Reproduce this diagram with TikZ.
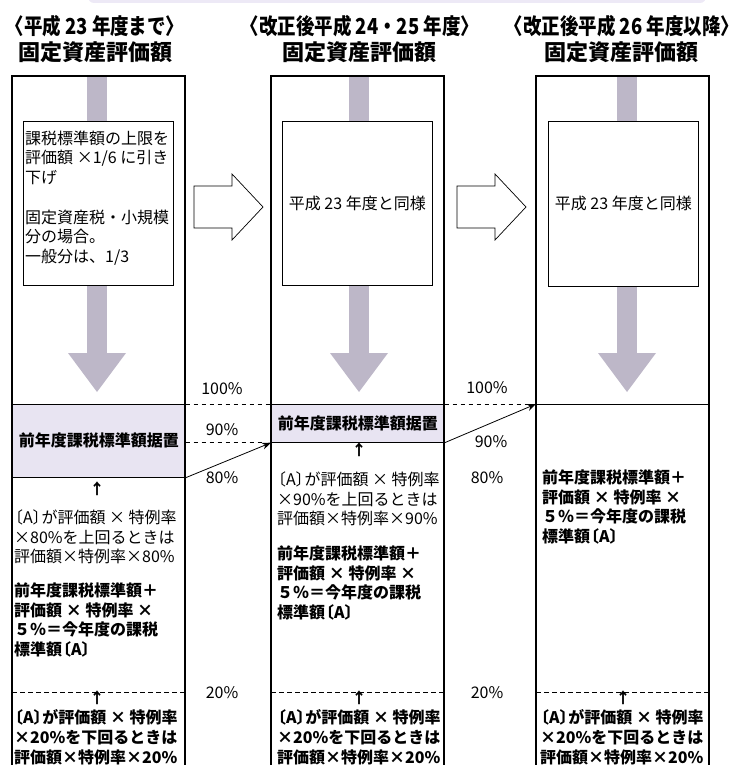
\documentclass[tikz,border=0pt]{standalone}
\usepackage{fontspec}
\setmainfont{Noto Sans CJK JP}
\usetikzlibrary{arrows.meta}

\definecolor{flowgray}{RGB}{189,183,200}
\definecolor{keepfill}{RGB}{232,228,242}
\definecolor{bandfill}{RGB}{237,233,246}

\newcommand{\mul}{\makebox[1em]{×}}
\newcommand{\lbr}{\hspace*{-.45em}〔}
\newcommand{\rbr}{〕\hspace{-.45em}}
\newcommand{\narrow}[1]{\scalebox{.84}[1]{#1}}

\tikzset{
    colbox/.style  = {draw, line width = 1.3pt},
    capbox/.style  = {draw, fill = white, line width = .7pt, anchor = north west, minimum width = 150pt, minimum height = 164pt},
    keepbox/.style = {draw, fill = keepfill, line width = .7pt, inner sep = 0pt, anchor = north west, minimum width = 173pt, font = \fontsize{16}{19.7}\selectfont\bfseries},
    note/.style    = {inner sep = 0pt, anchor = north west, align = left, font = \fontsize{16}{19.7}\selectfont},
    notebf/.style  = {note, font = \fontsize{16}{19.7}\selectfont\bfseries},
    pct/.style     = {inner sep = 0pt, font = \fontsize{16}{19}\selectfont},
    uparrow/.style = {inner sep = 0pt, font = \fontsize{15}{18}\selectfont\bfseries},
    heading/.style = {inner sep = 0pt, font = \fontsize{22}{26}\selectfont\bfseries},
    cut/.style     = {dash pattern = on 4.5pt off 3.5pt, line width = .7pt},
    hollow/.style  = {draw, fill = white, line width = .7pt},
}

\begin{document}
\begin{tikzpicture}[x = 1pt, y = -1pt, >={Stealth[length = 9pt, width = 7pt]}]
    \useasboundingbox (0, 0) rectangle (738, 765);
    \clip (0, 0) rectangle (738, 765);
    \fill [bandfill, rounded corners = 6pt] (88, -20) rectangle (706, 3);

    \node [heading] (yearL) at (95, 26) {\narrow{〈平成 23 年度まで〉}};
    \node [heading] (yearM) at (360, 26) {\narrow{〈改正後平成 24・25 年度〉}};
    \node [heading] (yearR) at (622, 26) {\narrow{〈改正後平成 26 年度以降〉}};
    \node [heading] (valueL) at (95.5, 52.5) {固定資産評価額};
    \node [heading] (valueM) at (359, 52.5) {固定資産評価額};
    \node [heading] (valueR) at (621, 52.5) {固定資産評価額};

    \begin{scope}[xshift = 12pt]
        \fill [flowgray] (75, 77) rectangle (95, 354);
        \fill [flowgray] (56, 353) -- (114, 353) -- (85, 392) -- cycle;
        \node [capbox] (capL) at (11, 121) {};
        \node [note] (capLtext) at (13, 130.5) {課税標準額の上限を\\評価額 \mul{}1/6 に引き\\下げ\\[19.7pt]固定資産税・小規模\\分の場合。\\一般分は、1/3};

        \node [keepbox, minimum height = 73pt] (keepL) at (0, 404) {前年度課税標準額据置};
        \node [uparrow] (upL) at (85, 489) {↑};
        \node [note] (overL) at (2, 509.5) {\lbr A\rbr が評価額 \mul{} 特例率\\\mul{}80\%を上回るときは\\評価額\mul{}特例率\mul{}80\%};
        \node [notebf] (calcL) at (2, 582.5) {前年度課税標準額＋\\評価額 \mul{} 特例率 \mul{}\\５％＝今年度の課税\\標準額\lbr A\rbr};

        \draw [cut] (0, 692) -- (173, 692);
        \node [uparrow] (lowL) at (85, 698) {↑};
        \node [notebf] (underL) at (2, 709.5) {\lbr A\rbr が評価額 \mul{} 特例率\\\mul{}20\%を下回るときは\\評価額\mul{}特例率\mul{}20\%};
        \draw [colbox] (0, 76) rectangle (173, 800);
    \end{scope}

    \begin{scope}[xshift = 271pt]
        \fill [flowgray] (78, 77) rectangle (98, 354);
        \fill [flowgray] (59, 353) -- (117, 353) -- (88, 392) -- cycle;
        \node [capbox] (capM) at (11, 121) {};
        \node [note, anchor = center] (capMtext) at (capM.center) {平成 23 年度と同様};

        \node [keepbox, minimum height = 38pt] (keepM) at (0, 404) {前年度課税標準額据置};
        \node [uparrow] (upM) at (88, 450) {↑};
        \node [note] (overM) at (6, 471.5) {\lbr A\rbr が評価額 \mul{} 特例率\\\mul{}90\%を上回るときは\\評価額\mul{}特例率\mul{}90\%};
        \node [notebf] (calcM) at (6, 545.5) {前年度課税標準額＋\\評価額 \mul{} 特例率 \mul{}\\５％＝今年度の課税\\標準額\lbr A\rbr};

        \draw [cut] (0, 692) -- (173, 692);
        \node [uparrow] (lowM) at (88, 698) {↑};
        \node [notebf] (underM) at (6, 709.5) {\lbr A\rbr が評価額 \mul{} 特例率\\\mul{}20\%を下回るときは\\評価額\mul{}特例率\mul{}20\%};
        \draw [colbox] (0, 76) rectangle (173, 800);
    \end{scope}

    \begin{scope}[xshift = 536pt]
        \fill [flowgray] (81, 77) rectangle (101, 354);
        \fill [flowgray] (62, 353) -- (120, 353) -- (91, 392) -- cycle;
        \node [capbox, minimum height = 165pt] (capR) at (12, 121) {};
        \node [note, anchor = center] (capRtext) at (capR.center) {平成 23 年度と同様};

        \coordinate (baseR) at (0, 404);
        \draw [line width = .7pt] (baseR) -- (173, 404);
        \node [notebf] (calcR) at (6, 469.5) {前年度課税標準額＋\\評価額 \mul{} 特例率 \mul{}\\５％＝今年度の課税\\標準額\lbr A\rbr};

        \draw [cut] (0, 692) -- (173, 692);
        \node [uparrow] (lowR) at (87, 698) {↑};
        \node [notebf] (underR) at (4, 709.5) {\lbr A\rbr が評価額 \mul{} 特例率\\\mul{}20\%を下回るときは\\評価額\mul{}特例率\mul{}20\%};
        \draw [colbox] (0, 76) rectangle (173, 800);
    \end{scope}

    % hollow arrows between the columns
    \draw [hollow] (194, 186) -- (232, 186) -- (232, 174) -- (263, 207) -- (232, 240) -- (232, 228) -- (194, 228) -- cycle;
    \draw [hollow] (457, 186) -- (495, 186) -- (495, 174) -- (526, 207) -- (495, 240) -- (495, 228) -- (457, 228) -- cycle;

    \node [pct] (pL100) at (222, 389) {100\%};
    \node [pct] (pL90) at (222, 430) {90\%};
    \node [pct] (pL80) at (222, 478) {80\%};
    \node [pct] (pL20) at (222, 693) {20\%};
    \node [pct] (pR100) at (487, 388) {100\%};
    \node [pct] (pR90) at (491, 442) {90\%};
    \node [pct] (pR80) at (487, 478) {80\%};
    \node [pct] (pR20) at (487, 693) {20\%};

    \draw [cut] (keepL.north east) -- (keepM.north west);
    \draw [cut] (keepL.east |- keepM.south) -- ([xshift = -6pt] keepM.south west);
    \draw [cut] (keepM.north east) -- ([xshift = -8pt] baseR);
    \draw [->, line width = .8pt] (keepL.south east) -- (keepM.south west);
    \draw [->, line width = .8pt] (keepM.south east) -- (baseR);

\end{tikzpicture}
\end{document}
